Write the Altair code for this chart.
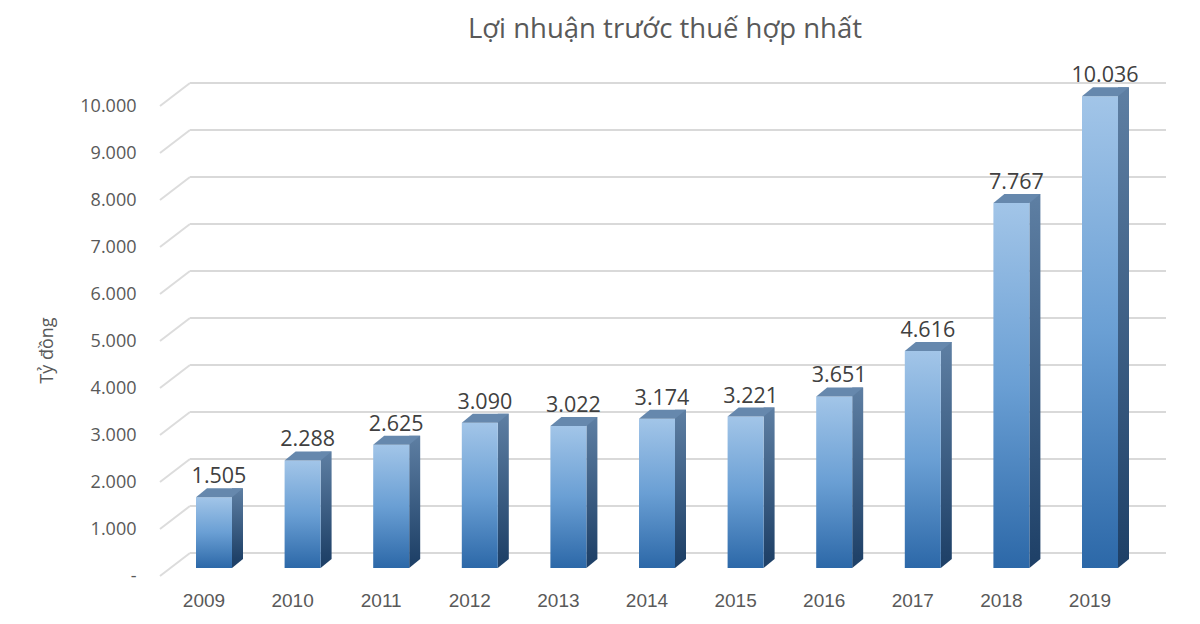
import altair as alt
import pandas as pd

years = ["2009", "2010", "2011", "2012", "2013", "2014", "2015", "2016", "2017", "2018", "2019"]
profits = [1505, 2288, 2625, 3090, 3022, 3174, 3221, 3651, 4616, 7767, 10036]
tick_values = [0, 1000, 2000, 3000, 4000, 5000, 6000, 7000, 8000, 9000, 10000]
title_text = "Lợi nhuận trước thuế hợp nhất"
y_title = "Tỷ đồng"

bars_df = pd.DataFrame({
    "year": years,
    "value": profits,
    "label": [f"{v:,}".replace(",", ".") for v in profits],
})
base_df = pd.DataFrame({"year": years, "value": [0] * len(years)})
grid_df = pd.DataFrame({"value": tick_values})

GREY = "#595959"

yscale = alt.Scale(domain=[0, 10000], nice=False, zero=True)
yaxis = alt.Axis(
    values=tick_values,
    labelExpr="datum.value == 0 ? '-\u00a0\u00a0\u00a0' : format(datum.value / 1000, 'd') + '.000'",
    grid=False, domain=False, ticks=False, tickSize=0,
    labelPadding=24, labelOffset=8,
    labelFont="Open Sans", labelFontSize=18, labelColor=GREY,
    title=y_title, titleAngle=270, titleX=-113, titleY=252,
    titleFont="Open Sans", titleFontSize=18, titleColor=GREY, titleFontWeight="normal",
    titleAlign="center", titleBaseline="middle",
)
Y = alt.Y("value:Q", scale=yscale, axis=yaxis)

xscale = alt.Scale(range=[9.7, 984.3], paddingInner=0, paddingOuter=0)
xaxis = alt.Axis(
    labelAngle=0, domain=False, ticks=False, grid=False,
    labelPadding=23, labelOffset=-10, title=None,
    labelFont="Liberation Sans", labelFontSize=19, labelColor=GREY,
)
X = alt.X("year:O", scale=xscale, axis=xaxis, sort=years)

grid_back = alt.Chart(grid_df).mark_rule(
    color="#D9D9D9", strokeWidth=2, yOffset=-15
).encode(y=Y, x=alt.value(30), x2=alt.value(1006))

grid_diag = alt.Chart(grid_df).mark_rule(
    color="#DCDCDC", strokeWidth=2, yOffset=8, y2Offset=-15
).encode(y=Y, y2=alt.Y2("value"), x=alt.value(0), x2=alt.value(30))

front_grad = alt.Gradient(
    gradient="linear", x1=0, y1=0, x2=0, y2=1,
    stops=[alt.GradientStop(offset=0, color="#A2C5E8"),
           alt.GradientStop(offset=0.5, color="#6A9FD4"),
           alt.GradientStop(offset=1, color="#2C68A8")],
)
side_grad = alt.Gradient(
    gradient="linear", x1=0, y1=0, x2=0, y2=1,
    stops=[alt.GradientStop(offset=0, color="#5E7FA3"),
           alt.GradientStop(offset=1, color="#1F4168")],
)

side = alt.Chart(bars_df).mark_bar(
    size=11, xOffset=23.5, yOffset=-9, y2Offset=-9, color=side_grad
).encode(x=X, y=Y)

bottom_tri = alt.Chart(base_df).mark_point(
    shape="M18,-9L18,0L29,-9Z", size=4, filled=True, opacity=1,
    strokeWidth=0, color="#1F4168"
).encode(x=X, y=Y)

front = alt.Chart(bars_df).mark_bar(size=36, color=front_grad).encode(x=X, y=Y)

top_face = alt.Chart(bars_df).mark_point(
    shape="M-18,0L18,0L29,-9L-7,-9Z", size=4, filled=True, opacity=1,
    strokeWidth=0, color="#6688AD"
).encode(x=X, y=Y)

labels = alt.Chart(bars_df).mark_text(
    font="Open Sans", fontSize=21.5, color="#404040",
    baseline="alphabetic", dy=-14, dx=5
).encode(x=X, y=Y, text="label:N")

chart = alt.layer(
    grid_back, grid_diag, side, bottom_tri, front, top_face, labels
).properties(
    width=1010, height=470,
    autosize="none",
    padding={"left": 152, "top": 90, "right": 20, "bottom": 48},
    title=alt.TitleParams(
        text=title_text, font="Open Sans", fontSize=27.5, color=GREY,
        fontWeight="normal", anchor="middle", frame="group",
        offset=0, baseline="alphabetic",
    ),
).configure_view(stroke=None)

chart.save("out.html", embed_options={"renderer": "svg", "actions": False})
